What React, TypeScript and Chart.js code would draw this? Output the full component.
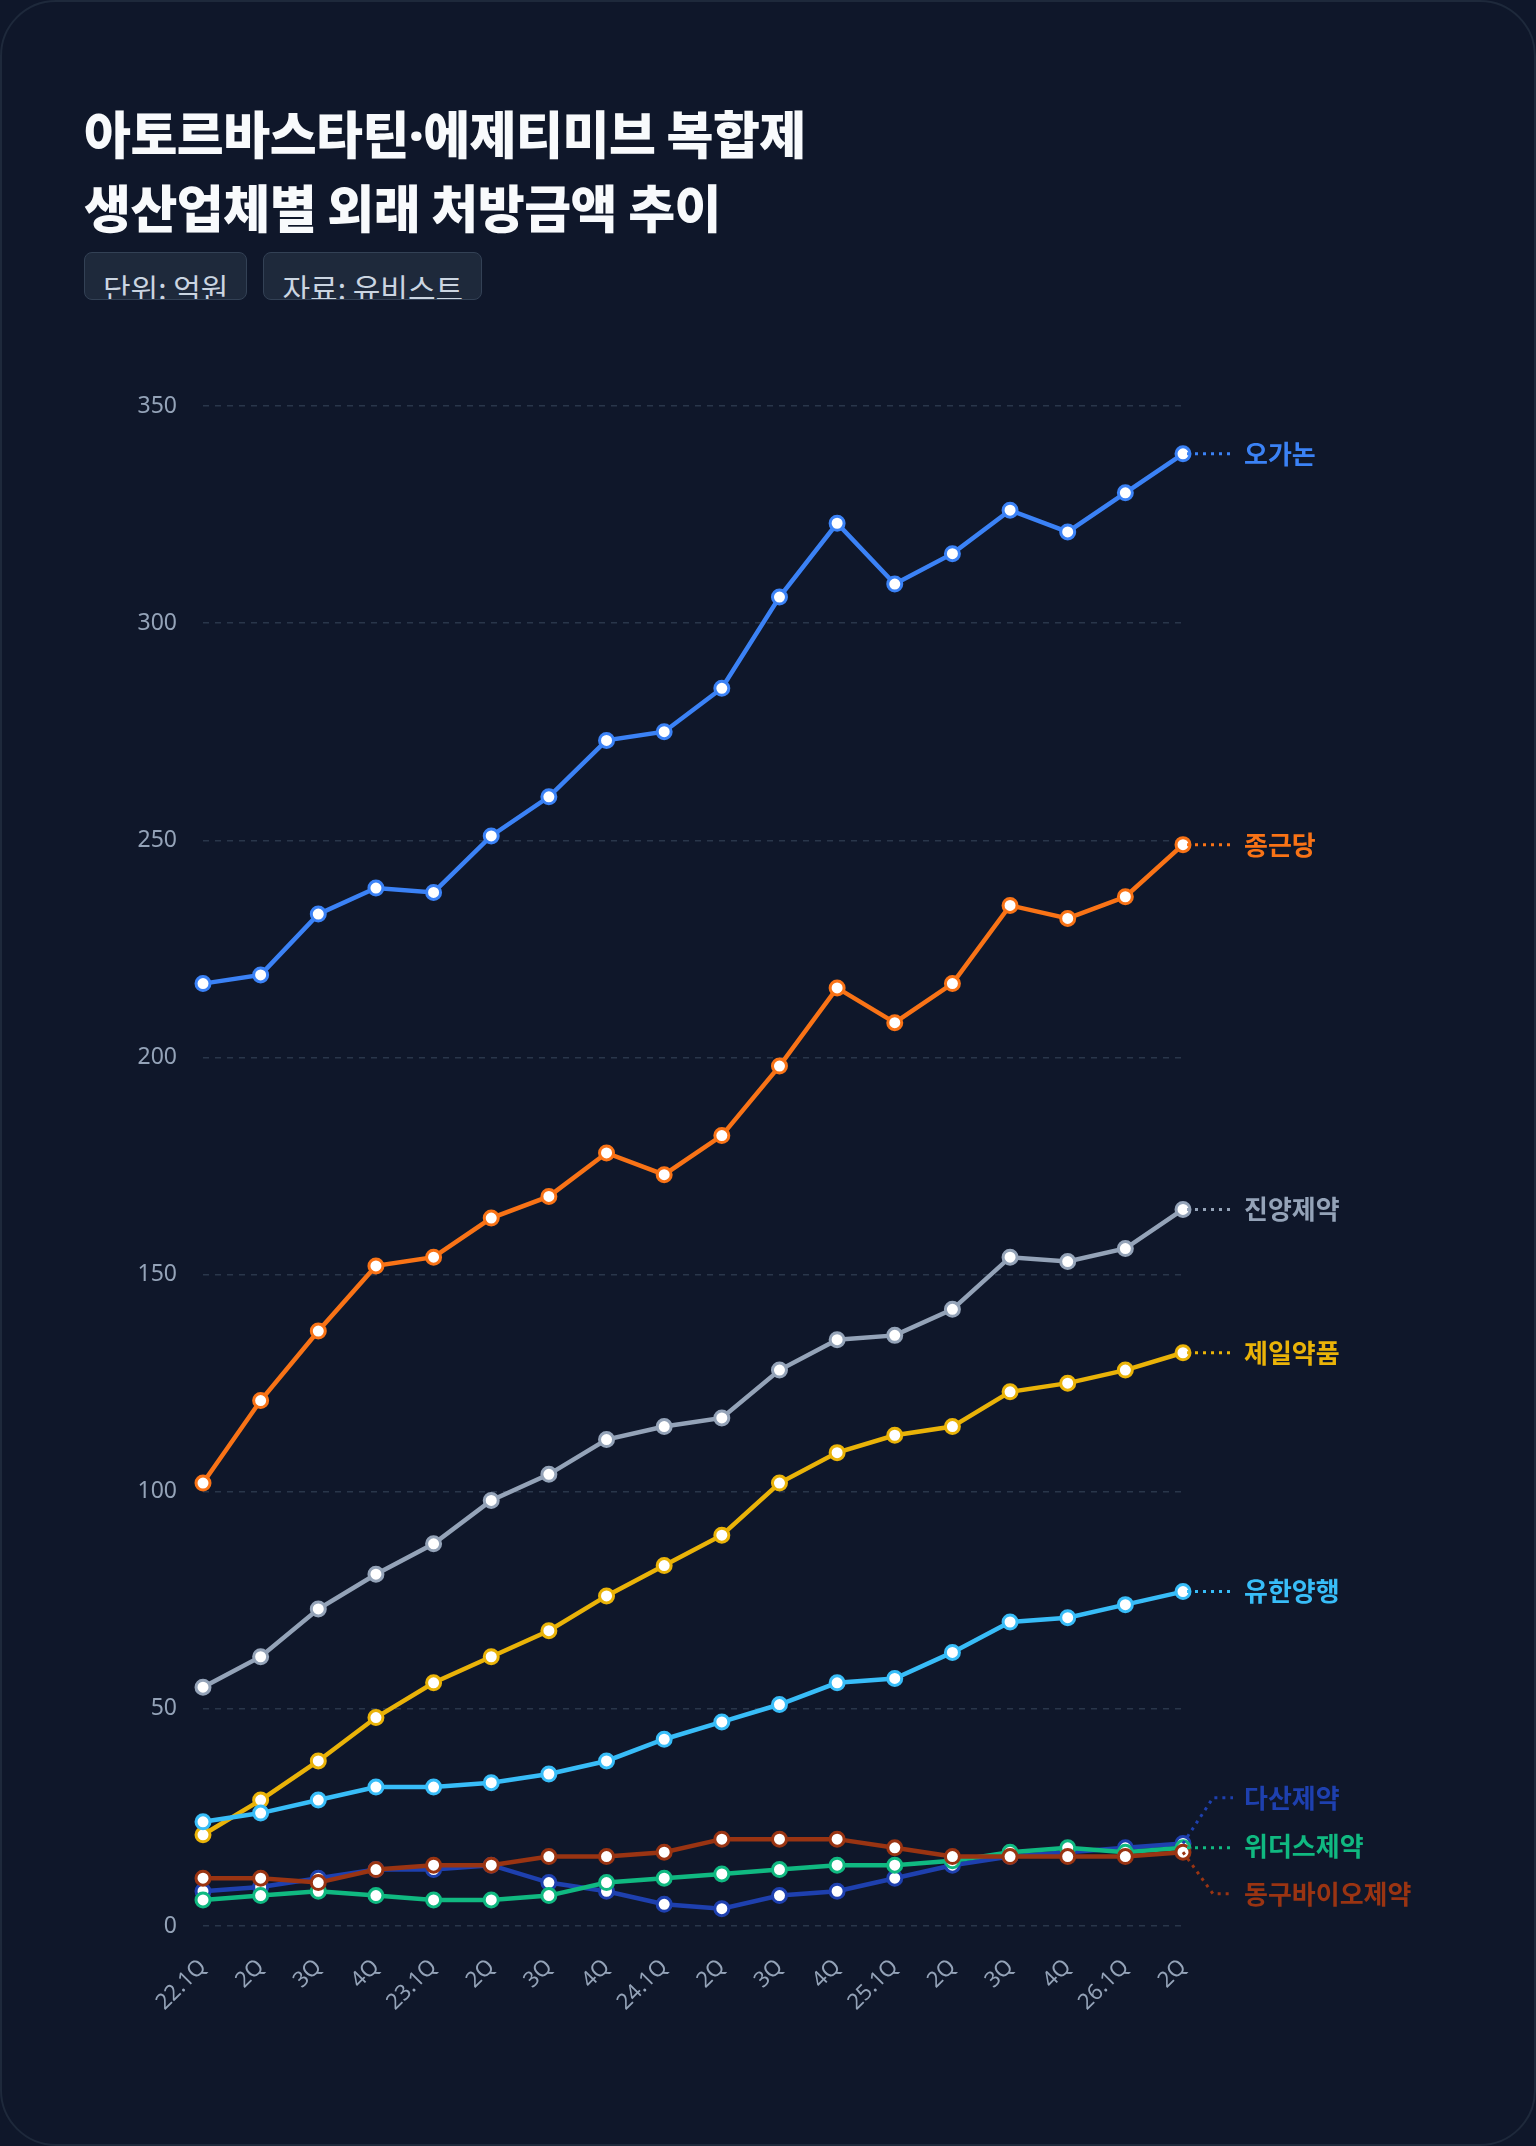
import React, { useEffect, useRef } from "react";
import { Chart, registerables, ChartConfiguration, Plugin } from "chart.js";

Chart.register(...registerables);

const QUARTERS = [
  "22.1Q", "2Q", "3Q", "4Q",
  "23.1Q", "2Q", "3Q", "4Q",
  "24.1Q", "2Q", "3Q", "4Q",
  "25.1Q", "2Q", "3Q", "4Q",
  "26.1Q", "2Q",
];

const SERIES_NAMES = ["오가논", "종근당", "진양제약", "제일약품", "유한양행", "다산제약", "위더스제약", "동구바이오제약"];
const SERIES_COLORS = ["#3b82f6", "#f97316", "#94a3b8", "#eab308", "#38bdf8", "#1e40af", "#10b981", "#9a3412"];

const ORGANON = [217, 219, 233, 239, 238, 251, 260, 273, 275, 285, 306, 323, 309, 316, 326, 321, 330, 339];
const CHONGKUNDANG = [102, 121, 137, 152, 154, 163, 168, 178, 173, 182, 198, 216, 208, 217, 235, 232, 237, 249];
const JINYANG = [55, 62, 73, 81, 88, 98, 104, 112, 115, 117, 128, 135, 136, 142, 154, 153, 156, 165];
const JEIL = [21, 29, 38, 48, 56, 62, 68, 76, 83, 90, 102, 109, 113, 115, 123, 125, 128, 132];
const YUHAN = [24, 26, 29, 32, 32, 33, 35, 38, 43, 47, 51, 56, 57, 63, 70, 71, 74, 77];
const DASAN = [8, 9, 11, 13, 13, 14, 10, 8, 5, 4, 7, 8, 11, 14, 16, 17, 18, 19];
const WITHUS = [6, 7, 8, 7, 6, 6, 7, 10, 11, 12, 13, 14, 14, 15, 17, 18, 17, 18];
const DONGKOO = [11, 11, 10, 13, 14, 14, 16, 16, 17, 20, 20, 20, 18, 16, 16, 16, 16, 17];

const SERIES_VALUES = [ORGANON, CHONGKUNDANG, JINYANG, JEIL, YUHAN, DASAN, WITHUS, DONGKOO];

const Y_TICKS = [0, 50, 100, 150, 200, 250, 300, 350];

const CJK = "'Noto Sans CJK KR', 'Noto Sans', sans-serif";

// 선 끝에 회사명 + 점선 지시선
const endLabels: Plugin<"line"> = {
  id: "endLabels",
  afterDatasetsDraw(chart) {
    const ctx = chart.ctx;
    const gap = 48;
    const items = chart.data.datasets.map((ds, i) => {
      const meta = chart.getDatasetMeta(i);
      const pt = meta.data[meta.data.length - 1];
      return { i, x: pt.x, y: pt.y, ly: pt.y, name: ds.label as string, color: SERIES_COLORS[i] };
    });
    items.sort((a, b) => a.y - b.y);

    // 겹치는 라벨끼리 묶어서 평균 위치 기준으로 벌려 놓기
    const groups = items.map((it) => [it]);
    let moved = true;
    while (moved) {
      moved = false;
      for (let g = 0; g < groups.length - 1; g++) {
        const a = groups[g];
        const b = groups[g + 1];
        if (b[0].ly - a[a.length - 1].ly < gap) {
          const merged = [...a, ...b];
          const mean = merged.reduce((s, it) => s + it.y, 0) / merged.length;
          const start = mean - 2 - ((merged.length - 1) * gap) / 2;
          merged.forEach((it, k) => (it.ly = start + k * gap));
          groups.splice(g, 2, merged);
          moved = true;
          break;
        }
      }
    }

    ctx.save();
    items.forEach((it) => {
      ctx.strokeStyle = it.color;
      ctx.lineWidth = 3;
      ctx.setLineDash([3, 5]);
      ctx.beginPath();
      if (Math.abs(it.ly - it.y) < 3) {
        ctx.moveTo(it.x + 4, it.y);
        ctx.lineTo(it.x + 50, it.y);
      } else {
        ctx.moveTo(it.x, it.y);
        ctx.lineTo(it.x + 30, it.ly);
        ctx.lineTo(it.x + 50, it.ly);
      }
      ctx.stroke();
      ctx.setLineDash([]);
      ctx.fillStyle = it.color;
      ctx.font = `bold 26px ${CJK}`;
      ctx.textAlign = "left";
      ctx.textBaseline = "middle";
      ctx.fillText(it.name, it.x + 61, it.ly);
    });
    ctx.restore();
  },
};

const PrescriptionChart: React.FC = () => {
  const chartRef = useRef<HTMLCanvasElement | null>(null);

  useEffect(() => {
    if (!chartRef.current) return;

    const datasets = SERIES_NAMES.map((name, i) => ({
      label: name,
      data: SERIES_VALUES[i],
      borderColor: SERIES_COLORS[i],
      backgroundColor: SERIES_COLORS[i],
      borderWidth: 4.5,
      pointRadius: 7,
      pointBorderWidth: 3,
      pointBackgroundColor: "#ffffff",
      pointBorderColor: SERIES_COLORS[i],
      tension: 0,
      fill: false,
      order: SERIES_NAMES.length - i,
    }));

    const config: ChartConfiguration<"line"> = {
      type: "line",
      data: { labels: QUARTERS, datasets },
      options: {
        animation: false,
        responsive: true,
        maintainAspectRatio: false,
        layout: { padding: { top: 44, right: 273, bottom: 36, left: 0 } },
        plugins: {
          legend: { display: false },
          tooltip: { enabled: false },
        },
        scales: {
          x: {
            offset: false,
            grid: { display: false, drawTicks: false },
            border: { display: false },
            afterFit: (scale) => {
              scale.height = 120;
            },
            ticks: {
              color: "#94a3b8",
              font: { size: 22, family: "'Noto Sans', sans-serif" },
              minRotation: 45,
              maxRotation: 45,
              autoSkip: false,
              padding: 28,
            },
          },
          y: {
            min: 0,
            max: 350,
            afterFit: (scale) => {
              scale.width = 119;
            },
            afterBuildTicks: (scale) => {
              scale.ticks = Y_TICKS.map((v) => ({ value: v }));
            },
            grid: { color: "rgba(51, 65, 85, 0.75)", lineWidth: 1.5, drawTicks: false },
            border: { display: false, dash: [6, 6] },
            ticks: {
              color: "#94a3b8",
              font: { size: 23, family: "'Noto Sans', sans-serif" },
              padding: 26,
            },
          },
        },
      },
      plugins: [endLabels],
    };

    const chart = new Chart(chartRef.current, config);
    return () => {
      chart.destroy();
    };
  }, []);

  return (
    <div style={{ position: "absolute", left: 82, top: 360, width: 1372, height: 1720 }}>
      <canvas ref={chartRef} />
    </div>
  );
};

const badgeStyle: React.CSSProperties = {
  display: "inline-block",
  boxSizing: "border-box",
  height: 48,
  overflow: "hidden",
  padding: "12px 18px 0",
  marginRight: 16,
  background: "#1e293b",
  border: "1.5px solid #334155",
  borderRadius: 8,
  color: "#cbd5e1",
  fontSize: 30,
  lineHeight: "44px",
  fontFamily: CJK,
};

export default function App() {
  useEffect(() => {
    document.body.style.margin = "0";
    document.body.style.background = "#0f172a";
    document.body.style.overflow = "hidden";
  }, []);

  return (
    <div
      style={{
        position: "relative",
        width: 1536,
        height: 2146,
        boxSizing: "border-box",
        background: "#0f172a",
        border: "2px solid #1e293b",
        borderRadius: 56,
        fontFamily: CJK,
      }}
    >
      <div
        style={{
          position: "absolute",
          left: 82,
          top: 94,
          color: "#f8fafc",
          fontSize: 51,
          fontWeight: 900,
          lineHeight: "72px",
          letterSpacing: -0.5,
        }}
      >
        아토르바스타틴<span style={{ fontFamily: "'Noto Sans', sans-serif" }}>·</span>에제티미브 복합제
        <br />
        생산업체별 외래 처방금액 추이
      </div>
      <div style={{ position: "absolute", left: 82, top: 250, display: "flex" }}>
        <div style={badgeStyle}>단위: 억원</div>
        <div style={badgeStyle}>자료: 유비스트</div>
      </div>
      <PrescriptionChart />
    </div>
  );
}
